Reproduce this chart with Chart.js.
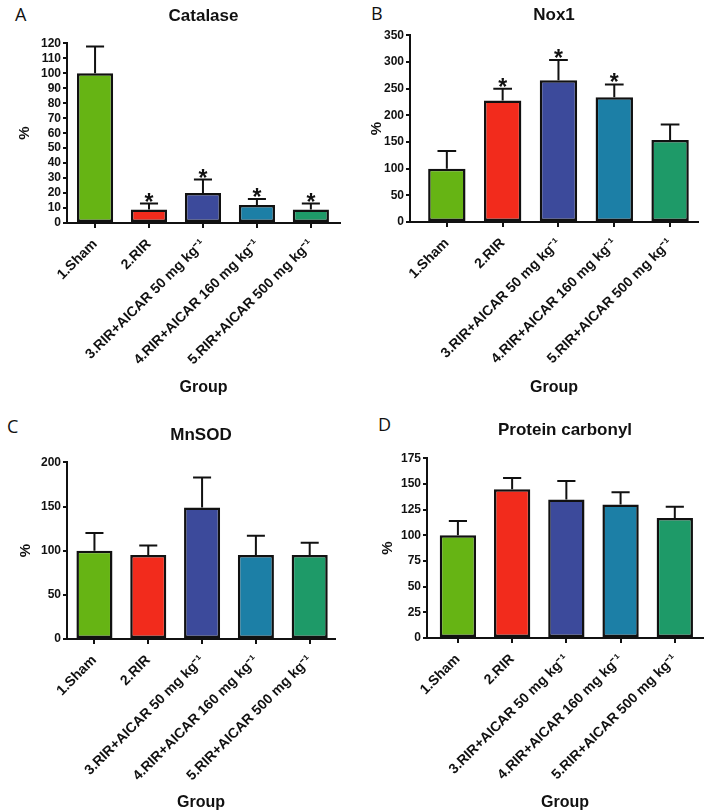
<!DOCTYPE html>
<html lang="en">

<head>
    <meta charset="UTF-8">
    <title>Catalase, Nox1, MnSOD, Protein carbonyl</title>
    <script src="https://cdn.jsdelivr.net/npm/chart.js"></script>
    <style>
        body {
            margin: 0;
            background: #fff;
            width: 709px;
            height: 812px;
            position: relative;
            overflow: hidden;
        }

        canvas {
            position: absolute;
        }

        .letter {
            position: absolute;
            font-family: "Open Sans", sans-serif;
            font-size: 18px;
            color: #111;
            line-height: 1;
        }
    </style>
</head>

<body>
    <div class="letter" style="left:15px;top:5px">A</div>
    <div class="letter" style="left:371px;top:4px">B</div>
    <div class="letter" style="left:7px;top:417px">C</div>
    <div class="letter" style="left:378px;top:415px">D</div>

    <canvas id="panelA" width="354" height="400" style="left:0;top:0"></canvas>
    <canvas id="panelB" width="355" height="400" style="left:354px;top:0"></canvas>
    <canvas id="panelC" width="354" height="397" style="left:0;top:415px"></canvas>
    <canvas id="panelD" width="355" height="397" style="left:354px;top:415px"></canvas>

    <script>
        // groups on the x axis
        const groups = ['1.Sham', '2.RIR', '3.RIR+AICAR 50 mg kg⁻¹', '4.RIR+AICAR 160 mg kg⁻¹', '5.RIR+AICAR 500 mg kg⁻¹'];
        const barColors = ['#66b414', '#f22b1c', '#3c4a9b', '#1c7fa6', '#1e9a68'];

        // mean %, SEM (upper error bar) and significance stars per panel
        const catalase = [100, 9, 20, 12, 9];
        const catalaseSem = [18, 4, 9, 4, 4];
        const catalaseStar = [false, true, true, true, true];

        const nox1 = [100, 228, 266, 234, 154];
        const nox1Sem = [33, 22, 38, 24, 29];
        const nox1Star = [false, true, true, true, false];

        const mnsod = [100, 95, 149, 95, 95];
        const mnsodSem = [20, 11, 34, 22, 14];
        const mnsodStar = [false, false, false, false, false];

        const carbonyl = [100, 145, 135, 130, 117];
        const carbonylSem = [14, 11, 18, 12, 11];
        const carbonylStar = [false, false, false, false, false];

        const FONT = 'Liberation Sans, Arial, sans-serif';

        // upper SEM bars + asterisks, drawn over the bars
        const errorBars = {
            id: 'errorBars',
            afterDatasetsDraw(chart, args, opts) {
                const ctx = chart.ctx;
                const y = chart.scales.y;
                const meta = chart.getDatasetMeta(0);
                ctx.save();
                ctx.strokeStyle = '#111';
                ctx.fillStyle = '#111';
                ctx.lineWidth = 2;
                ctx.font = 'bold 23px ' + FONT;
                ctx.textAlign = 'center';
                ctx.textBaseline = 'alphabetic';
                meta.data.forEach((bar, i) => {
                    const v = chart.data.datasets[0].data[i].y;
                    const top = y.getPixelForValue(v + opts.sem[i]);
                    const half = bar.width / 4;
                    ctx.beginPath();
                    ctx.moveTo(bar.x, bar.y);
                    ctx.lineTo(bar.x, top);
                    ctx.moveTo(bar.x - half, top);
                    ctx.lineTo(bar.x + half, top);
                    ctx.stroke();
                    if (opts.star[i]) {
                        ctx.fillText('*', bar.x, top + 6);
                    }
                });
                ctx.restore();
            }
        };

        function makePanel(id, p) {
            new Chart(document.getElementById(id), {
                type: 'bar',
                data: {
                    datasets: [{
                        data: p.values.map((v, i) => ({ x: i, y: v })),
                        backgroundColor: barColors,
                        borderColor: '#111',
                        borderWidth: 2.5,
                        borderSkipped: false,
                        barPercentage: 0.67,
                        categoryPercentage: 1
                    }]
                },
                options: {
                    responsive: false,
                    animation: false,
                    layout: { padding: { left: 0, right: p.padRight, top: 0, bottom: p.padBottom } },
                    plugins: {
                        legend: { display: false },
                        tooltip: { enabled: false },
                        title: {
                            display: true,
                            text: p.title,
                            fullSize: false,
                            color: '#111',
                            font: { family: FONT, size: 17, weight: 'bold' },
                            padding: { top: p.titleTop, bottom: p.titleBottom }
                        },
                        errorBars: { sem: p.sem, star: p.star }
                    },
                    scales: {
                        x: {
                            type: 'linear',
                            min: p.xMin,
                            max: p.xMax,
                            offset: false,
                            border: { display: true, color: '#111', width: 2 },
                            grid: { display: true, offset: false, drawOnChartArea: false, tickLength: 5, color: '#111', lineWidth: 2 },
                            ticks: {
                                stepSize: 1,
                                includeBounds: false,
                                autoSkip: false,
                                minRotation: 45,
                                maxRotation: 45,
                                padding: 8,
                                color: '#111',
                                font: { family: FONT, size: 14, weight: 'bold' },
                                callback: v => groups[v]
                            },
                            afterBuildTicks: s => {
                                s.ticks = s.ticks.filter(t => Number.isInteger(t.value) && t.value >= 0 && t.value < groups.length);
                            },
                            title: {
                                display: true,
                                text: 'Group',
                                color: '#111',
                                font: { family: FONT, size: 16, weight: 'bold' },
                                padding: { top: 0, bottom: 0 }
                            },
                            afterFit: s => { s.height = p.xHeight; }
                        },
                        y: {
                            min: 0,
                            max: p.yMax,
                            border: { display: true, color: '#111', width: 2 },
                            grid: { display: true, drawOnChartArea: false, tickLength: 4, color: '#111', lineWidth: 2 },
                            ticks: {
                                stepSize: p.yStep,
                                autoSkip: false,
                                padding: 2,
                                color: '#111',
                                font: { family: FONT, size: 12, weight: 'bold' }
                            },
                            title: {
                                display: true,
                                text: '%',
                                color: '#111',
                                font: { family: FONT, size: 15, weight: 'bold' },
                                padding: { top: p.yTitlePad, bottom: 0 }
                            },
                            afterFit: s => { s.width = p.yWidth; }
                        }
                    }
                },
                plugins: [errorBars]
            });
        }

        makePanel('panelA', {
            title: 'Catalase', values: catalase, sem: catalaseSem, star: catalaseStar,
            yMax: 120, yStep: 10, xMin: -0.52, xMax: 4.54,
            yWidth: 67, padRight: 14, padBottom: 3, xHeight: 174,
            titleTop: 6, titleBottom: 17, yTitlePad: 16
        });
        makePanel('panelB', {
            title: 'Nox1', values: nox1, sem: nox1Sem, star: nox1Star,
            yMax: 350, yStep: 50, xMin: -0.66, xMax: 4.5,
            yWidth: 56, padRight: 11, padBottom: 3, xHeight: 175,
            titleTop: 5, titleBottom: 10, yTitlePad: 14
        });
        makePanel('panelC', {
            title: 'MnSOD', values: mnsod, sem: mnsodSem, star: mnsodStar,
            yMax: 200, yStep: 50, xMin: -0.51, xMax: 4.47,
            yWidth: 67, padRight: 19, padBottom: 0, xHeight: 173,
            titleTop: 10, titleBottom: 17, yTitlePad: 17
        });
        makePanel('panelD', {
            title: 'Protein carbonyl', values: carbonyl, sem: carbonylSem, star: carbonylStar,
            yMax: 175, yStep: 25, xMin: -0.57, xMax: 4.52,
            yWidth: 73, padRight: 6, padBottom: 0, xHeight: 174,
            titleTop: 5, titleBottom: 18, yTitlePad: 25
        });
    </script>
</body>

</html>
